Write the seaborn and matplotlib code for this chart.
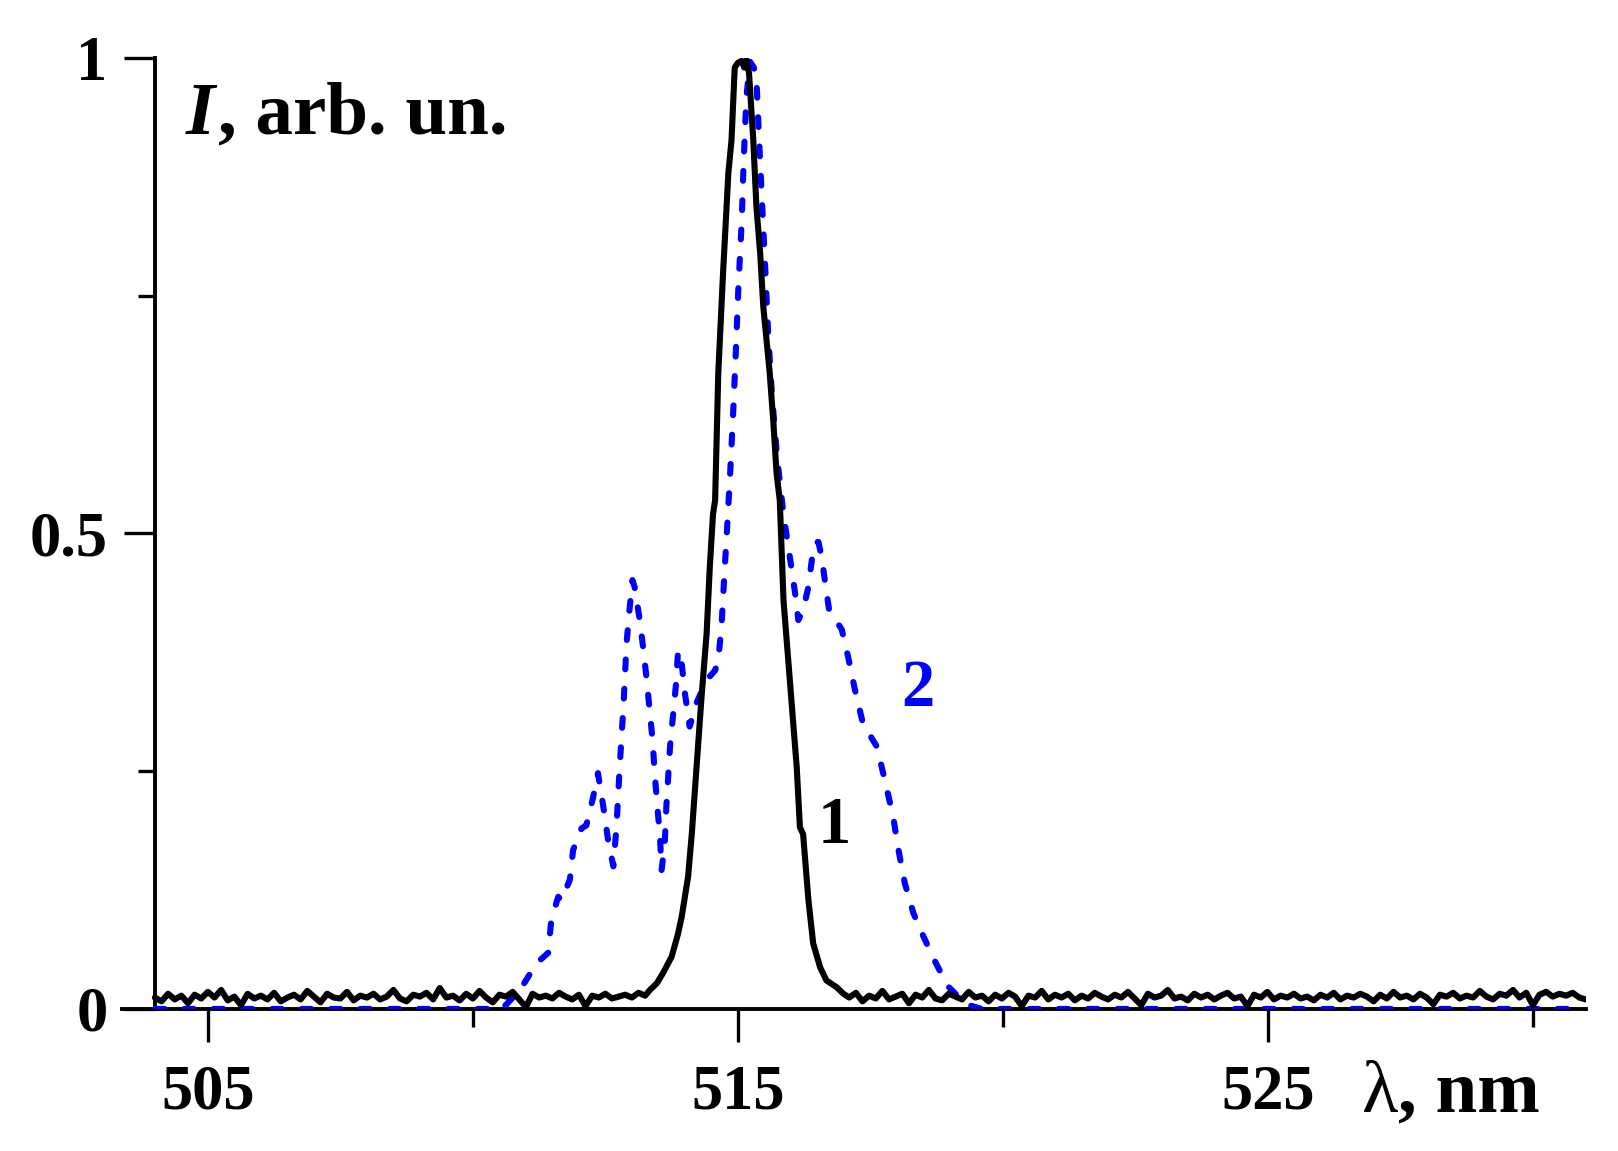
import numpy as np
import pandas as pd
import matplotlib
matplotlib.use("Agg")
import matplotlib.pyplot as plt
import seaborn as sns

## curve 1 (black, solid): baseline noise, peak, baseline noise
base1_left = [0.012, 0.008, 0.016, 0.010, 0.014, 0.006, 0.015, 0.011, 0.018, 0.012,
              0.020, 0.009, 0.013, 0.004, 0.016, 0.011, 0.014, 0.010, 0.017, 0.008,
              0.012, 0.015, 0.010, 0.019, 0.013, 0.007, 0.016, 0.012, 0.011, 0.018,
              0.009, 0.014, 0.012, 0.016, 0.010, 0.013, 0.020, 0.011, 0.008, 0.015,
              0.013, 0.017, 0.010, 0.022, 0.012, 0.014, 0.009, 0.016, 0.011, 0.019,
              0.012, 0.007, 0.015, 0.013, 0.018, 0.010, 0.002, 0.016, 0.012, 0.014,
              0.011, 0.017, 0.013, 0.010, 0.015, 0.003, 0.014, 0.012, 0.016, 0.011,
              0.013, 0.015, 0.012, 0.017, 0.014]
wl1_peak = [513.34, 513.47, 513.59, 513.75, 513.87, 513.94, 514.06, 514.13, 514.22, 514.31,
            514.41, 514.47, 514.53, 514.57, 514.63, 514.72, 514.82, 514.88, 514.94, 515.00,
            515.07, 515.12, 515.16, 515.21, 515.29, 515.35, 515.42, 515.48, 515.54, 515.60,
            515.67, 515.73, 515.79, 515.86, 516.01, 516.11, 516.17, 516.23, 516.33, 516.42,
            516.55, 516.67, 516.86, 516.99]
int1_peak = [0.020, 0.027, 0.038, 0.055, 0.079, 0.097, 0.139, 0.184, 0.254, 0.325,
             0.395, 0.465, 0.520, 0.535, 0.669, 0.774, 0.879, 0.914, 0.990, 0.995,
             0.997, 0.990, 0.998, 0.984, 0.914, 0.843, 0.795, 0.738, 0.703, 0.669,
             0.616, 0.563, 0.535, 0.430, 0.325, 0.254, 0.191, 0.184, 0.115, 0.069,
             0.044, 0.030, 0.023, 0.016]
base1_right = [0.012, 0.017, 0.008, 0.014, 0.011, 0.019, 0.010, 0.013, 0.016, 0.006,
               0.015, 0.012, 0.020, 0.011, 0.009, 0.016, 0.013, 0.010, 0.018, 0.012,
               0.014, 0.008, 0.015, 0.011, 0.017, 0.013, 0.003, 0.014, 0.012, 0.019,
               0.010, 0.015, 0.012, 0.016, 0.009, 0.014, 0.011, 0.017, 0.013, 0.010,
               0.015, 0.012, 0.018, 0.011, 0.004, 0.016, 0.012, 0.014, 0.020, 0.011,
               0.013, 0.009, 0.016, 0.012, 0.015, 0.010, 0.014, 0.017, 0.011, 0.013,
               0.003, 0.015, 0.012, 0.018, 0.010, 0.014, 0.012, 0.016, 0.011, 0.013,
               0.009, 0.015, 0.012, 0.017, 0.010, 0.014, 0.012, 0.016, 0.013, 0.008,
               0.015, 0.011, 0.018, 0.012, 0.014, 0.010, 0.016, 0.012, 0.005, 0.015,
               0.013, 0.017, 0.011, 0.014, 0.012, 0.019, 0.013, 0.010, 0.016, 0.014,
               0.020, 0.012, 0.017, 0.004, 0.015, 0.018, 0.013, 0.016, 0.014, 0.017,
               0.012, 0.010]

## curve 2 (blue, dashed)
wl2 = [504.00, 510.55, 510.89, 511.20, 511.42, 511.48, 511.61, 511.67, 511.83, 511.89,
       512.05, 512.14, 512.27, 512.36, 512.46, 512.55, 512.65, 512.71, 512.77, 512.84,
       512.90, 512.96, 513.01, 513.05, 513.14, 513.21, 513.28, 513.34, 513.39, 513.43,
       513.48, 513.53, 513.56, 513.62, 513.65, 513.72, 513.78, 513.84, 513.87, 513.94,
       514.00, 514.09, 514.22, 514.41, 514.57, 514.63, 514.69, 514.75, 514.79, 514.85,
       514.91, 514.96, 515.01, 515.07, 515.11, 515.16, 515.23, 515.30, 515.35, 515.40,
       515.46, 515.52, 515.57, 515.64, 515.74, 515.86, 515.98, 516.08, 516.14, 516.23,
       516.33, 516.42, 516.48, 516.52, 516.58, 516.64, 516.72, 516.96, 517.08, 517.21,
       517.36, 517.62, 517.77, 517.93, 518.03, 518.15, 518.31, 518.47, 518.71, 518.96,
       519.30, 519.60, 531.00]
int2 = [0.000, 0.000, 0.020, 0.048, 0.059, 0.094, 0.118, 0.114, 0.136, 0.167,
        0.190, 0.193, 0.223, 0.248, 0.213, 0.178, 0.150, 0.192, 0.255, 0.318,
        0.385, 0.423, 0.451, 0.444, 0.412, 0.381, 0.346, 0.311, 0.283, 0.248,
        0.213, 0.181, 0.146, 0.174, 0.213, 0.276, 0.311, 0.346, 0.377, 0.363,
        0.332, 0.297, 0.322, 0.346, 0.356, 0.367, 0.402, 0.462, 0.500, 0.559,
        0.626, 0.690, 0.760, 0.826, 0.893, 0.959, 0.996, 0.990, 0.977, 0.914,
        0.843, 0.774, 0.711, 0.648, 0.580, 0.520, 0.475, 0.437, 0.409, 0.419,
        0.444, 0.483, 0.491, 0.491, 0.475, 0.451, 0.420, 0.399, 0.370, 0.335,
        0.300, 0.276, 0.241, 0.202, 0.167, 0.132, 0.101, 0.080, 0.051, 0.024,
        0.005, 0.000, 0.000]

xticks_major = [505, 515, 525]
xticks_minor = [510, 520, 530]
yticks_major = [0, 0.5, 1]
yticks_minor = [0.25, 0.75]
ytick_labels = ['0', '0.5', '1']

wl1 = np.concatenate([np.linspace(504.0, 513.25, len(base1_left)), wl1_peak,
                      np.linspace(517.1, 531.0, len(base1_right))])
int1 = np.concatenate([base1_left, int1_peak, base1_right])
df1 = pd.DataFrame({'wl': wl1, 'I': int1})
df2 = pd.DataFrame({'wl': wl2, 'I': int2})

sns.set_style('ticks')
plt.rcParams['font.family'] = ['Liberation Serif', 'DejaVu Serif']
plt.rcParams['font.weight'] = 'bold'
for key in ['text.color', 'axes.edgecolor', 'axes.labelcolor', 'xtick.color', 'ytick.color']:
    plt.rcParams[key] = 'black'

fig = plt.figure(figsize=(16.18, 11.51), dpi=100)
ax = fig.add_axes([0.0754, 0.1234, 0.9048, 0.8262])

sns.lineplot(data=df2, x='wl', y='I', color='#0000ff', linewidth=4.4,
             linestyle=(0, (1.6, 3.2)), estimator=None, ax=ax, zorder=3)
sns.lineplot(data=df1, x='wl', y='I', color='black', linewidth=4.4,
             estimator=None, ax=ax, zorder=4)
ax.lines[0].set_dash_capstyle('round')
ax.lines[1].set_solid_joinstyle('round')

ax.set_xlim(503.38, 531.0)
ax.set_ylim(0, 1)
ax.spines['top'].set_visible(False)
ax.spines['right'].set_visible(False)
ax.spines['left'].set_position(('data', 504))
for s in ['left', 'bottom']:
    ax.spines[s].set_linewidth(2.8)
    ax.spines[s].set_zorder(2)

ax.set_xticks(xticks_major)
ax.set_xticks(xticks_minor, minor=True)
ax.set_yticks(yticks_major)
ax.set_yticklabels(ytick_labels)
ax.set_yticks(yticks_minor, minor=True)
ax.tick_params(axis='x', which='major', direction='out', length=24, width=2.4,
               labelsize=45, pad=16)
ax.tick_params(axis='x', which='minor', direction='out', length=13, width=2.4)
ax.tick_params(axis='y', which='major', direction='out', length=22, width=2.4,
               labelsize=45, pad=12)
ax.tick_params(axis='y', which='minor', direction='out', length=12, width=2.4)
ax.set_xlabel('')
ax.set_ylabel('')

# axis captions
t_i = fig.text(186 / 1618, 1 - 134 / 1151, 'I', fontsize=54, fontweight='bold',
               fontstyle='italic', va='baseline', ha='left')
ax.annotate(', arb. un.', xy=(1, 0), xycoords=t_i, xytext=(2, 0),
            textcoords='offset points', fontsize=54, fontweight='bold',
            va='bottom', ha='left')
t_l = fig.text(1362 / 1618, 1 - 1112 / 1151, 'λ', fontsize=54, fontweight='normal',
               va='baseline', ha='left')
ax.annotate(', nm', xy=(1, 0), xycoords=t_l, fontsize=54, fontweight='bold',
            va='bottom', ha='left', annotation_clip=False)

ax.text(516.81, 0.192, '1', fontsize=48, fontweight='bold', color='black',
        ha='center', va='center')
ax.text(518.40, 0.336, '2', fontsize=48, fontweight='bold', color='#0000ff',
        ha='center', va='center')

plt.savefig('out.png', dpi=100, facecolor='white')
